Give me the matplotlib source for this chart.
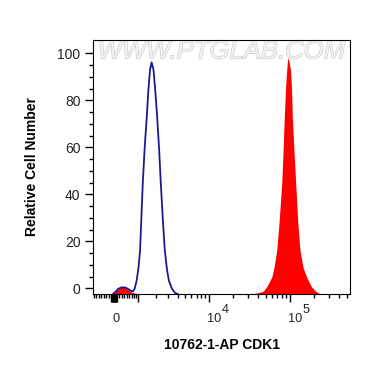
import numpy as np
import matplotlib
matplotlib.use('Agg')
import matplotlib.pyplot as plt
import matplotlib.patheffects as pe

plt.rcParams['font.family'] = ['Liberation Sans', 'DejaVu Sans']

# control sample (blue outline)
blue_x = [-38, 77, 154, 270, 349, 469, 551, 678, 765, 831, 932, 1018, 1092, 1230,
          1332, 1447, 1534, 1634, 1735, 1854, 1973, 2102, 2236, 2374, 2548, 2703,
          2893, 3064, 3358, 3676, 4024]
blue_y = [-2.35, -1.2, -0.2, 0.4, 0.5, 0.3, -0.2, -1.0, -1.2, -0.3, 3.4, 9, 16, 44.6,
          60, 73, 84, 93, 96.2, 93, 84, 73, 60, 44.6, 28, 16,
          8, 3.4, 0.0, -1.8, -2.35]

# CDK1 stained sample (red filled)
red_x = [-77, 77, 192, 310, 429, 551, 678, 809, 994, 1191,
         32130, 38110, 46900, 52110, 59550, 63590, 68640, 73300, 79110, 82120,
         85190, 88160, 90720, 93830, 97340, 101600, 104560, 106900, 112250,
         117800, 125000, 133100, 144900, 160900, 181900, 203800, 235100]
red_y = [-2.35, -1.0, 0.2, 0.5, 0.3, -0.5, -1.4, -1.9, -2.2, -2.35,
         -2.35, -2.0, -1.2, 1.0, 4.8, 9, 16.2, 28, 44.5, 58,
         73, 85, 92, 98.2, 96.5, 93, 85, 73, 58,
         44.5, 28, 16.2, 9, 4.8, 1.0, -1.0, -2.35]

y_ticks = [0, 20, 40, 60, 80, 100]
x_labels = [(0, '0', None), (1e4, '10', '4'), (1e5, '10', '5')]

C = 1350.0


def fwd(x):
    return np.arcsinh(np.asarray(x, dtype=float) / C)


def inv(y):
    return C * np.sinh(np.asarray(y, dtype=float))


fig = plt.figure(figsize=(3.70, 3.67), dpi=100)
ax = fig.add_axes([93 / 370, 1 - 294 / 367, 257 / 370, 254 / 367])
ax.set_xscale('function', functions=(fwd, inv))
ax.set_xlim(-854, 550500)
ax.set_ylim(-2.35, 105.7)

ax.text(0.5, 0.955, 'WWW.PTGLAB.COM', transform=ax.transAxes, ha='center', va='center',
        fontsize=18.5, fontstyle='italic', color='#f2f2f2', zorder=0,
        path_effects=[pe.withStroke(linewidth=0.9, foreground='#cccccc')])

ax.fill_between(red_x, red_y, -2.35, color='#ff0000', lw=0, zorder=2)
ax.plot(blue_x, blue_y, color='#1a1a8c', lw=1.3, zorder=3)

# ticks
major = [0, 1e3, 1e4, 1e5] + list(np.arange(-100, 101, 20))
minor = list(np.arange(-800, 0, 100)) + list(np.arange(100, 1000, 100))
for d in [1e3, 1e4, 1e5]:
    minor += [d * k for k in range(2, 10) if d * k < 550000]
ax.set_xticks(major)
ax.set_xticks(minor, minor=True)
ax.tick_params(axis='x', which='major', length=6, width=1, labelbottom=False)
ax.tick_params(axis='x', which='minor', length=3, width=1)

ax.set_yticks(y_ticks)
ax.set_yticks(np.arange(0, 101, 5), minor=True)
ax.tick_params(axis='y', which='major', length=6, width=1, labelsize=10,
               labelcolor='#222222', pad=3)
ax.tick_params(axis='y', which='minor', length=3, width=1)

for pos, base, exp in x_labels:
    ax.annotate(base, xy=(pos, 0), xycoords=('data', 'axes fraction'),
                xytext=(-1.3, -20.2), textcoords='offset points',
                ha='left', va='baseline', fontsize=9.2, color='#222222')
    if exp:
        ax.annotate(exp, xy=(pos, 0), xycoords=('data', 'axes fraction'),
                    xytext=(9.3, -14.0), textcoords='offset points',
                    ha='left', va='baseline', fontsize=9.2, color='#222222')

ax.set_xlabel('10762-1-AP CDK1', fontsize=10, fontweight='bold')
ax.xaxis.set_label_coords(0.5, -0.173)
ax.set_ylabel('Relative Cell Number', fontsize=10, fontweight='bold')
ax.yaxis.set_label_coords(-0.21, 0.5)

fig.savefig('out.png', dpi=100)
